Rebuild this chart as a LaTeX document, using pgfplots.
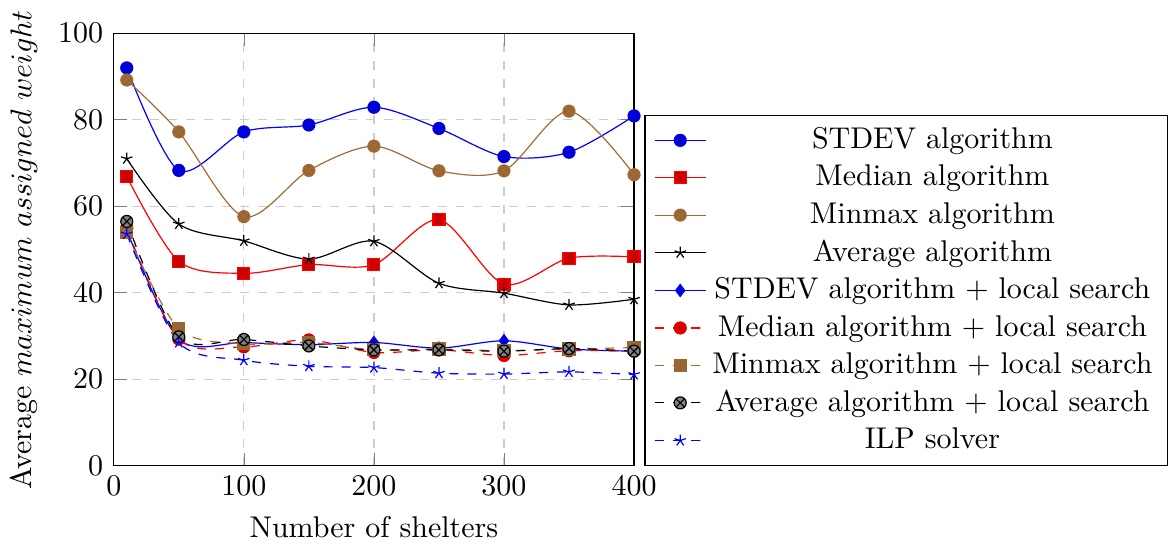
\documentclass[border=0pt]{standalone}
\usepackage{pgfplots}
\pgfplotsset{compat=1.18}
\begin{document}
\begin{tikzpicture}
	\begin{axis}[
			scale only axis,
			width=6.1cm,
			height=5.07cm,
			xmin=0, xmax=400,
			ymin=0, ymax=100,
			xtick={0,100,200,300,400},
			ytick={0,20,40,60,80,100},
			grid=major,
			grid style={dashed, gray!40},
			xlabel={Number of shelters},
			ylabel={Average $maximum\ assigned\ weight$},
			legend style={at={(1.02,0)}, anchor=south west, cells={align=center}},
			legend cell align=center,
		]
		% plain algorithms
		\addplot[blue, smooth, mark=*, mark options={fill=blue!85!black, draw=blue!85!black}] coordinates {
			(10,92) (50,68.3) (100,77.2) (150,78.8) (200,82.9) (250,78.0) (300,71.5) (350,72.5) (400,80.9)};
		\addlegendentry{STDEV algorithm}
		\addplot[red, smooth, mark=square*, mark options={fill=red!80!black}] coordinates {
			(10,66.9) (50,47.3) (100,44.5) (150,46.5) (200,46.5) (250,56.9) (300,42.0) (350,48.0) (400,48.3)};
		\addlegendentry{Median algorithm}
		\addplot[brown!85!black, smooth, mark=otimes*, mark options={fill=brown!80!black}] coordinates {
			(10,89.2) (50,77.2) (100,57.6) (150,68.3) (200,73.9) (250,68.2) (300,68.2) (350,82.0) (400,67.3)};
		\addlegendentry{Minmax algorithm}
		\addplot[black, smooth, mark=star] coordinates {
			(10,71) (50,55.9) (100,52.0) (150,47.8) (200,51.9) (250,42.2) (300,39.9) (350,37.2) (400,38.5)};
		\addlegendentry{Average algorithm}
		% with local search
		\addplot[blue, smooth, mark=diamond*, mark options={fill=blue!85!black}] coordinates {
			(10,54.5) (50,29.3) (100,28.5) (150,28.0) (200,28.5) (250,27.2) (300,28.9) (350,27.0) (400,26.5)};
		\addlegendentry{STDEV algorithm + local search}
		\addplot[red, dashed, smooth, mark=*, mark options={solid, fill=red!85!black, draw=red!85!black}] coordinates {
			(10,55) (50,29.3) (100,27.5) (150,29.1) (200,26.2) (250,26.8) (300,25.5) (350,26.6) (400,26.5)};
		\addlegendentry{Median algorithm + local search}
		\addplot[brown!85!black, dashed, smooth, mark=square*, mark options={solid, fill=brown!80!black, draw=brown!80!black}] coordinates {
			(10,53.9) (50,31.7) (100,28.2) (150,28.5) (200,26.8) (250,27.0) (300,26.6) (350,27.0) (400,27.3)};
		\addlegendentry{Minmax algorithm + local search}
		\addplot[black, dashed, smooth, mark=otimes*, mark options={solid, fill=gray}] coordinates {
			(10,56.5) (50,29.8) (100,29.2) (150,27.7) (200,26.8) (250,26.8) (300,26.5) (350,27.1) (400,26.5)};
		\addlegendentry{Average algorithm + local search}
		\addplot[blue, dashed, smooth, mark=star, mark options={solid}] coordinates {
			(10,53.6) (50,28.5) (100,24.4) (150,23.0) (200,22.7) (250,21.4) (300,21.2) (350,21.7) (400,21.1)};
		\addlegendentry{ILP solver}
	\end{axis}
\end{tikzpicture}
\end{document}
